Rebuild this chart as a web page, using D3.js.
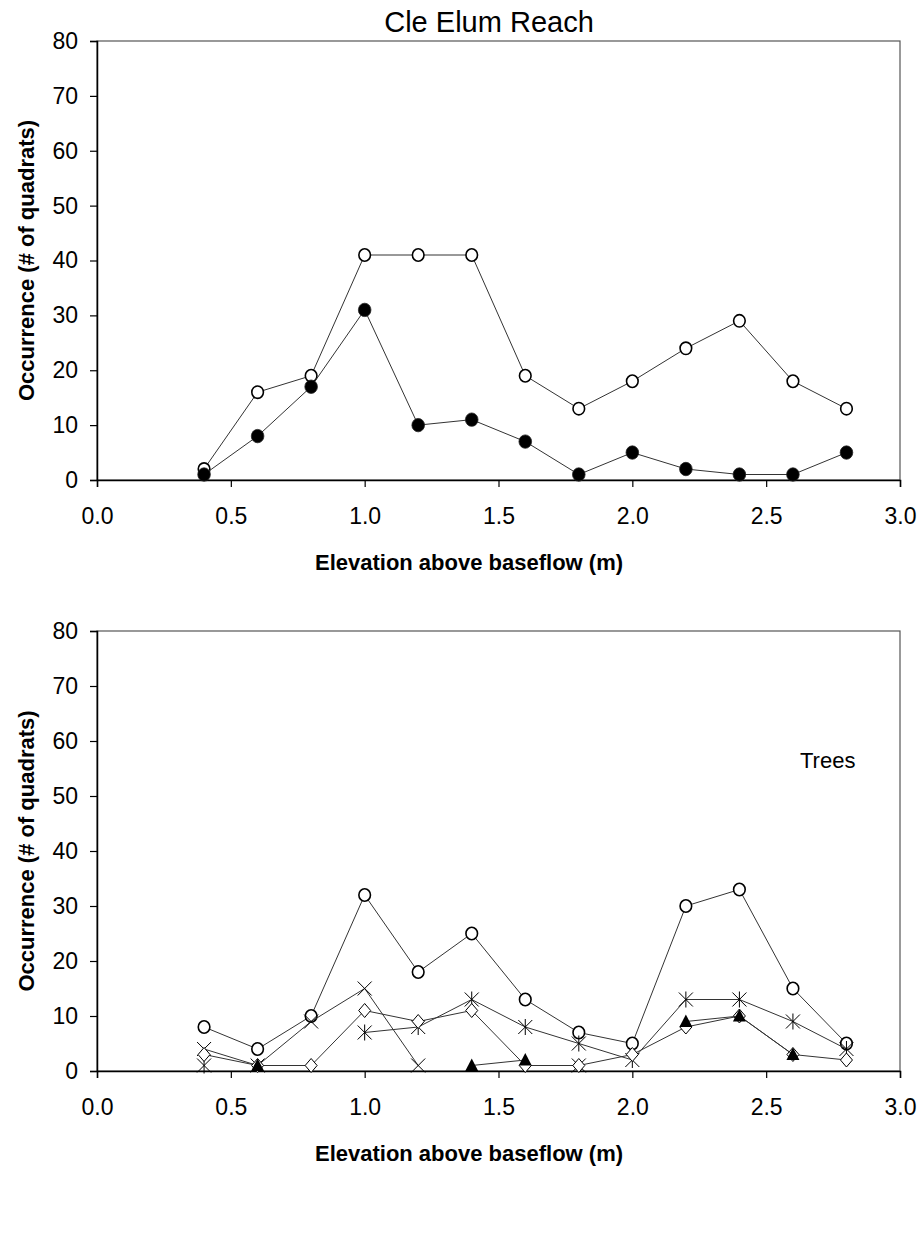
<!DOCTYPE html>
<html>
<head>
<meta charset="utf-8">
<script src="https://cdn.jsdelivr.net/npm/d3@7"></script>
<style>
  body { margin: 0; background: #fff; }
  svg { display: block; }
</style>
</head>
<body>
<svg id="chart" width="920" height="1247"></svg>
<script>
// Elevation classes (m above baseflow)
const elevations = [0.4, 0.6, 0.8, 1.0, 1.2, 1.4, 1.6, 1.8, 2.0, 2.2, 2.4, 2.6, 2.8];

// Upper panel: two species groups
const topOpen   = [2, 16, 19, 41, 41, 41, 19, 13, 18, 24, 29, 18, 13];
const topFilled = [1, 8, 17, 31, 10, 11, 7, 1, 5, 2, 1, 1, 5];

// Lower panel: trees
const treeOpen     = [8, 4, 10, 32, 18, 25, 13, 7, 5, 30, 33, 15, 5];
const treeCross    = [4, 1, 9, 15, 1, null, null, 1, null, null, null, null, null];
const treeDiamond  = [3, 1, 1, 11, 9, 11, 1, 1, 3, 8, 10, 3, 2];
const treeStar     = [1, null, null, 7, 8, 13, 8, 5, 2, 13, 13, 9, 4];
const treeTriangle = [null, 1, null, null, null, 1, 2, null, null, 9, 10, 3, null];

const yTicks = [0, 10, 20, 30, 40, 50, 60, 70, 80];
const xTicks = [0.0, 0.5, 1.0, 1.5, 2.0, 2.5, 3.0];

const svg = d3.select("#chart");
const sans = "Liberation Sans, Arial, sans-serif";
const narrow = "Liberation Sans Narrow, Liberation Sans, Arial, sans-serif";

const left = 97, right = 900;
const x = d3.scaleLinear().domain([0, 3]).range([left, right]);

function panel(top0, bottom0) {
  const y = d3.scaleLinear().domain([0, 80]).range([bottom0, top0]);
  const g = svg.append("g");

  // frame
  g.append("rect")
    .attr("x", left).attr("y", top0)
    .attr("width", right - left).attr("height", bottom0 - top0)
    .attr("fill", "none").attr("stroke", "#555").attr("stroke-width", 1.2);

  const ya = g.append("g").attr("transform", `translate(${left},0)`)
    .call(d3.axisLeft(y).tickValues(yTicks).tickSize(7).tickPadding(12).tickFormat(d3.format("d")));
  const xa = g.append("g").attr("transform", `translate(0,${bottom0})`)
    .call(d3.axisBottom(x).tickValues(xTicks).tickSize(7).tickPadding(21).tickFormat(d3.format(".1f")));
  [ya, xa].forEach(a => {
    a.select(".domain").attr("stroke", "#000").attr("stroke-width", 1.5);
    a.selectAll(".tick line").attr("stroke", "#000").attr("stroke-width", 1.2);
    a.selectAll("text").attr("font-family", sans)
      .attr("font-size", 23).attr("fill", "#000");
  });

  // axis titles
  g.append("text")
    .attr("x", 469).attr("y", bottom0 + 90)
    .attr("text-anchor", "middle")
    .attr("font-family", sans)
    .attr("font-weight", "bold").attr("font-size", 22)
    .text("Elevation above baseflow (m)");
  g.append("text")
    .attr("transform", `translate(34,${(top0 + bottom0) / 2}) rotate(-90)`)
    .attr("text-anchor", "middle")
    .attr("font-family", sans)
    .attr("font-weight", "bold").attr("font-size", 22)
    .text("Occurrence (# of quadrats)");
  return { g, y };
}

function series(p, values, marker) {
  const pts = elevations.map((e, i) => ({ e, v: values[i] }));
  const line = d3.line()
    .defined(d => d.v !== null)
    .x(d => x(d.e)).y(d => p.y(d.v));
  p.g.append("path").datum(pts)
    .attr("d", line).attr("fill", "none")
    .attr("stroke", "#333").attr("stroke-width", 1);
  const m = p.g.append("g").selectAll("g")
    .data(pts.filter(d => d.v !== null)).join("g")
    .attr("transform", d => `translate(${x(d.e)},${p.y(d.v)})`);
  marker(m);
}

const openEllipse = sel => sel.append("ellipse")
  .attr("rx", 5.8).attr("ry", 6.2).attr("fill", "#fff")
  .attr("stroke", "#000").attr("stroke-width", 1.6);
const filledEllipse = sel => sel.append("ellipse")
  .attr("rx", 6.3).attr("ry", 6.7).attr("fill", "#000").attr("stroke", "#222").attr("stroke-width", 0.8);
const crossMark = sel => sel.append("path")
  .attr("d", "M-7,-7L7,7M-7,7L7,-7").attr("stroke", "#000").attr("stroke-width", 1).attr("fill", "none");
const starMark = sel => sel.append("path")
  .attr("d", "M-7,-7L7,7M-7,7L7,-7M0,-8L0,8").attr("stroke", "#000").attr("stroke-width", 1).attr("fill", "none");
const diamondMark = sel => sel.append("path")
  .attr("d", "M0,-7L6,0L0,7L-6,0Z").attr("stroke", "#000").attr("stroke-width", 1).attr("fill", "#fff");
const triangleMark = sel => sel.append("path")
  .attr("d", "M0,-7L6.5,5.5L-6.5,5.5Z").attr("fill", "#000");

// Upper panel
const p1 = panel(41, 480);
svg.append("text")
  .attr("x", 489).attr("y", 32).attr("text-anchor", "middle")
  .attr("font-family", narrow)
  .attr("font-size", 29).text("Cle Elum Reach");
series(p1, topOpen, openEllipse);
series(p1, topFilled, filledEllipse);

// Lower panel
const p2 = panel(631, 1071);
p2.g.append("text")
  .attr("x", 800).attr("y", 768)
  .attr("font-family", narrow)
  .attr("font-size", 22).text("Trees");
series(p2, treeOpen, openEllipse);
series(p2, treeCross, crossMark);
series(p2, treeStar, starMark);
series(p2, treeDiamond, diamondMark);
series(p2, treeTriangle, triangleMark);
</script>
</body>
</html>
